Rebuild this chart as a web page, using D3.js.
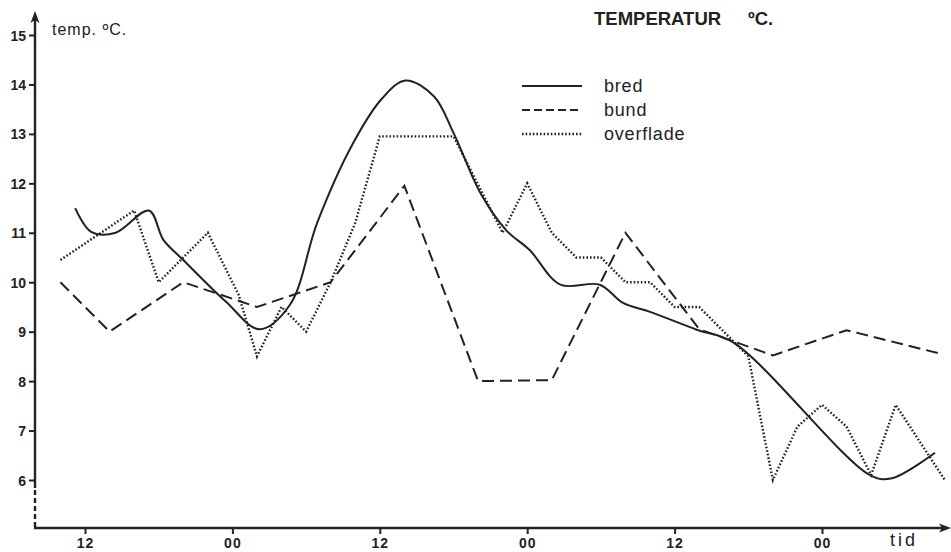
<!DOCTYPE html>
<html>
<head>
<meta charset="utf-8">
<script src="https://cdn.jsdelivr.net/npm/d3@7"></script>
<style>
  body { margin: 0; background: #fff; }
  svg { display: block; font-family: "Liberation Sans", Arial, sans-serif; }
  .tick text { font-weight: bold; fill: #222; }
</style>
</head>
<body>
<svg width="951" height="552"></svg>
<script>
// time in hours from the first "12" tick, temperature in °C
const yTicks = [6, 7, 8, 9, 10, 11, 12, 13, 14, 15];
const xTicks = [0, 12, 24, 36, 48, 60];
const xTickLabels = ['12', '00', '12', '00', '12', '00'];

const bred = [
  [-0.8, 11.5], [0.5, 11.02], [2.5, 11.0], [5.2, 11.45], [6.4, 10.85], [8, 10.45],
  [11.5, 9.6], [14.2, 9.05], [16.7, 9.55], [18.9, 11.2], [21.8, 12.8], [24.2, 13.72],
  [26.1, 14.08], [28.4, 13.76], [30, 13.02], [32.2, 11.8], [34.3, 11.05], [36.2, 10.65],
  [38.7, 9.95], [41.9, 9.95], [43.8, 9.58], [46, 9.4], [49.8, 9.04], [52.8, 8.78],
  [63.9, 6.1], [65.6, 6.03], [69.2, 6.55]
];
const bund = [
  [-2, 10], [2, 9], [8, 10], [14, 9.5], [20, 10], [26, 11.95], [32, 8], [38, 8.02],
  [44, 11], [50, 9.05], [56, 8.52], [62, 9.03], [69.7, 8.55]
];
const overflade = [
  [-2, 10.45], [4, 11.45], [6, 10], [10, 11], [12.5, 9.75], [14, 8.5], [16, 9.5],
  [18, 9], [20, 10], [22, 11.2], [24, 12.95], [30, 12.95], [34, 11], [36, 12],
  [38, 11], [40, 10.5], [42, 10.5], [44, 10], [46, 10], [48, 9.5], [50, 9.5],
  [54, 8.5], [56, 6], [58, 7.08], [60, 7.52], [62, 7.08], [64, 6.1], [66, 7.52], [70, 6]
];

const series = [
  { name: 'bred', data: bred, dash: null, width: 2, curve: d3.curveCatmullRom.alpha(0.5) },
  { name: 'bund', data: bund, dash: '12,6', width: 2, curve: d3.curveLinear },
  { name: 'overflade', data: overflade, dash: '1.6,2', width: 2.4, curve: d3.curveLinear }
];

const ink = '#222';
const svg = d3.select('svg');

const x = d3.scaleLinear().domain([0, 60]).range([85, 822]);
const y = d3.scaleLinear().domain([6, 15]).range([480, 35]);
const axisX = 35, axisY = 528;

// y axis
const gy = svg.append('g')
  .attr('transform', `translate(${axisX},0)`)
  .call(d3.axisLeft(y).tickValues(yTicks).tickSize(6).tickPadding(3).tickFormat(d3.format('d')));
gy.select('.domain').remove();
gy.selectAll('.tick line').attr('stroke', ink).attr('stroke-width', 2);
gy.selectAll('.tick text').attr('font-size', 14).attr('dy', '0.36em');

svg.append('line')
  .attr('x1', axisX).attr('x2', axisX).attr('y1', 20).attr('y2', 488)
  .attr('stroke', ink).attr('stroke-width', 2.4);
svg.append('line')
  .attr('x1', axisX).attr('x2', axisX).attr('y1', 490).attr('y2', axisY)
  .attr('stroke', ink).attr('stroke-width', 2.4).attr('stroke-dasharray', '5,3');
svg.append('path')
  .attr('d', `M${axisX},11 L${axisX - 4.5},23 L${axisX},20 L${axisX + 4.5},23 Z`)
  .attr('fill', ink);

// x axis
const gx = svg.append('g')
  .attr('transform', `translate(0,${axisY})`)
  .call(d3.axisBottom(x).tickValues(xTicks).tickSize(6).tickPadding(4)
    .tickFormat((d, i) => xTickLabels[i]));
gx.select('.domain').remove();
gx.selectAll('.tick line').attr('stroke', ink).attr('stroke-width', 2);
gx.selectAll('.tick text').attr('font-size', 14).attr('letter-spacing', '1px');

svg.append('line')
  .attr('x1', axisX - 1).attr('x2', 942).attr('y1', axisY).attr('y2', axisY)
  .attr('stroke', ink).attr('stroke-width', 2.4);
svg.append('path')
  .attr('d', `M951,${axisY} L939,${axisY - 4.5} L942,${axisY} L939,${axisY + 4.5} Z`)
  .attr('fill', ink);

svg.append('text')
  .attr('x', 890).attr('y', 546)
  .attr('font-size', 18).attr('letter-spacing', '3px').attr('fill', ink)
  .text('tid');

svg.append('text')
  .attr('x', 52).attr('y', 35)
  .attr('font-size', 16).attr('letter-spacing', '1px').attr('fill', ink)
  .text('temp. ºC.');

// lines
const line = d3.line().x(d => x(d[0])).y(d => y(d[1]));

svg.selectAll('.series')
  .data(series)
  .enter().append('path')
    .attr('class', 'series')
    .attr('fill', 'none')
    .attr('stroke', ink)
    .attr('stroke-width', d => d.width)
    .attr('stroke-dasharray', d => d.dash)
    .attr('d', d => line.curve(d.curve)(d.data));

// title + legend
svg.append('text')
  .attr('x', 594).attr('y', 25)
  .attr('font-size', 18.5).attr('font-weight', 'bold').attr('fill', ink)
  .text('TEMPERATUR');
svg.append('text')
  .attr('x', 748).attr('y', 25)
  .attr('font-size', 18.5).attr('font-weight', 'bold').attr('fill', ink)
  .text('ºC.');

const legend = svg.selectAll('.legend')
  .data(series)
  .enter().append('g')
    .attr('class', 'legend')
    .attr('transform', (d, i) => `translate(522,${86 + i * 24})`);

legend.append('line')
  .attr('x1', 0).attr('x2', 60)
  .attr('stroke', ink)
  .attr('stroke-width', d => d.width)
  .attr('stroke-dasharray', d => d.dash ? (d.name === 'bund' ? '8,4' : d.dash) : null);

legend.append('text')
  .attr('x', 82).attr('dy', '0.35em')
  .attr('font-size', 18).attr('letter-spacing', '0.8px').attr('fill', ink)
  .text(d => d.name);
</script>
</body>
</html>
